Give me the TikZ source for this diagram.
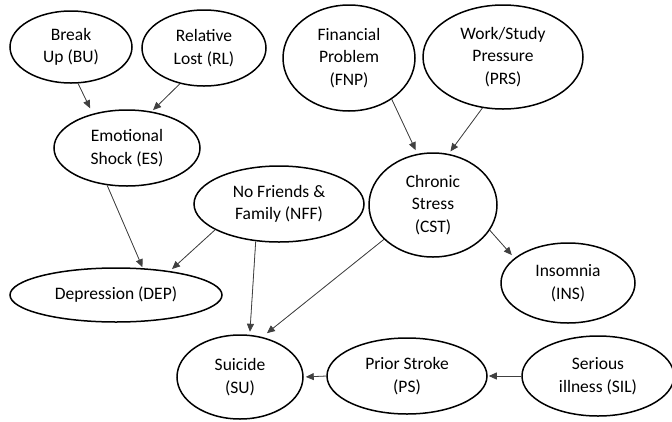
\documentclass[tikz,border=0pt]{standalone}
\usepackage{fontspec}
\setmainfont{Carlito}
\usetikzlibrary{shapes.geometric,arrows.meta}
\begin{document}
\begin{tikzpicture}[x=1pt,y=-1pt,
  bubble/.style={ellipse,draw=black,line width=1.5pt,inner sep=0pt,align=center,
    text=black,font=\fontsize{17.5}{22.5}\selectfont},
  link/.style={-{Triangle[length=8pt,width=7pt]},line width=0.8pt,draw=black!75,
    fill=black,shorten >=2pt}]
\useasboundingbox (0,0) rectangle (672,421);

% causes
\node[bubble,minimum width=122pt,minimum height=72pt]  (BU)  at (71,47)   {Break\\Up (BU)};
\node[bubble,minimum width=124pt,minimum height=76pt]  (RL)  at (204,48)  {Relative\\Lost (RL)};
\node[bubble,minimum width=146pt,minimum height=76pt]  (ES)  at (127,148) {Emotional\\Shock (ES)};
\node[bubble,minimum width=132pt,minimum height=106pt] (FNP) at (349,58)  {Financial\\Problem\\(FNP)};
\node[bubble,minimum width=160pt,minimum height=104pt] (PRS) at (503,57)  {Work/Study\\Pressure\\(PRS)};
\node[bubble,minimum width=170pt,minimum height=76pt]  (NFF) at (279,204) {No Friends \&\\Family (NFF)};
\node[bubble,minimum width=128pt,minimum height=104pt] (CST) at (433,205) {Chronic\\Stress\\(CST)};

% outcomes
\node[bubble,minimum width=212pt,minimum height=54pt]  (DEP) at (116,295) {Depression (DEP)};
\node[bubble,minimum width=134pt,minimum height=80pt]  (INS) at (568,283) {Insomnia\\(INS)};
\node[bubble,minimum width=126pt,minimum height=84pt]  (SU)  at (240,377) {Suicide\\(SU)};
\node[bubble,minimum width=160pt,minimum height=76pt]  (PS)  at (407,376) {Prior Stroke\\(PS)};
\node[bubble,minimum width=152pt,minimum height=80pt]  (SIL) at (598,376) {Serious\\illness (SIL)};

% dependencies
\draw[link,shorten >=6pt] (BU.-79)   -- (ES.135);
\draw[link]               (RL.-124)  -- (ES.56);
\draw[link,shorten >=4pt] (FNP.-44)  -- (CST.107);
\draw[link,shorten >=3pt] (PRS.-112) -- (CST.73);
\draw[link,shorten >=4pt] (CST.-24)  -- (INS.155);
\draw[link,shorten >=1pt] (ES.-118)  -- (DEP.45);
\draw[link,shorten >=3pt] (NFF.-158) -- (DEP.24);
\draw[link,shorten >=3pt] (NFF.-122) -- (SU.77);
\draw[link,shorten >=6pt] (CST.-145) -- (SU.61);
\draw[link]               (PS.west)  -- (SU.east);
\draw[link,shorten >=1pt] (SIL.west) -- (PS.east);
\end{tikzpicture}
\end{document}
